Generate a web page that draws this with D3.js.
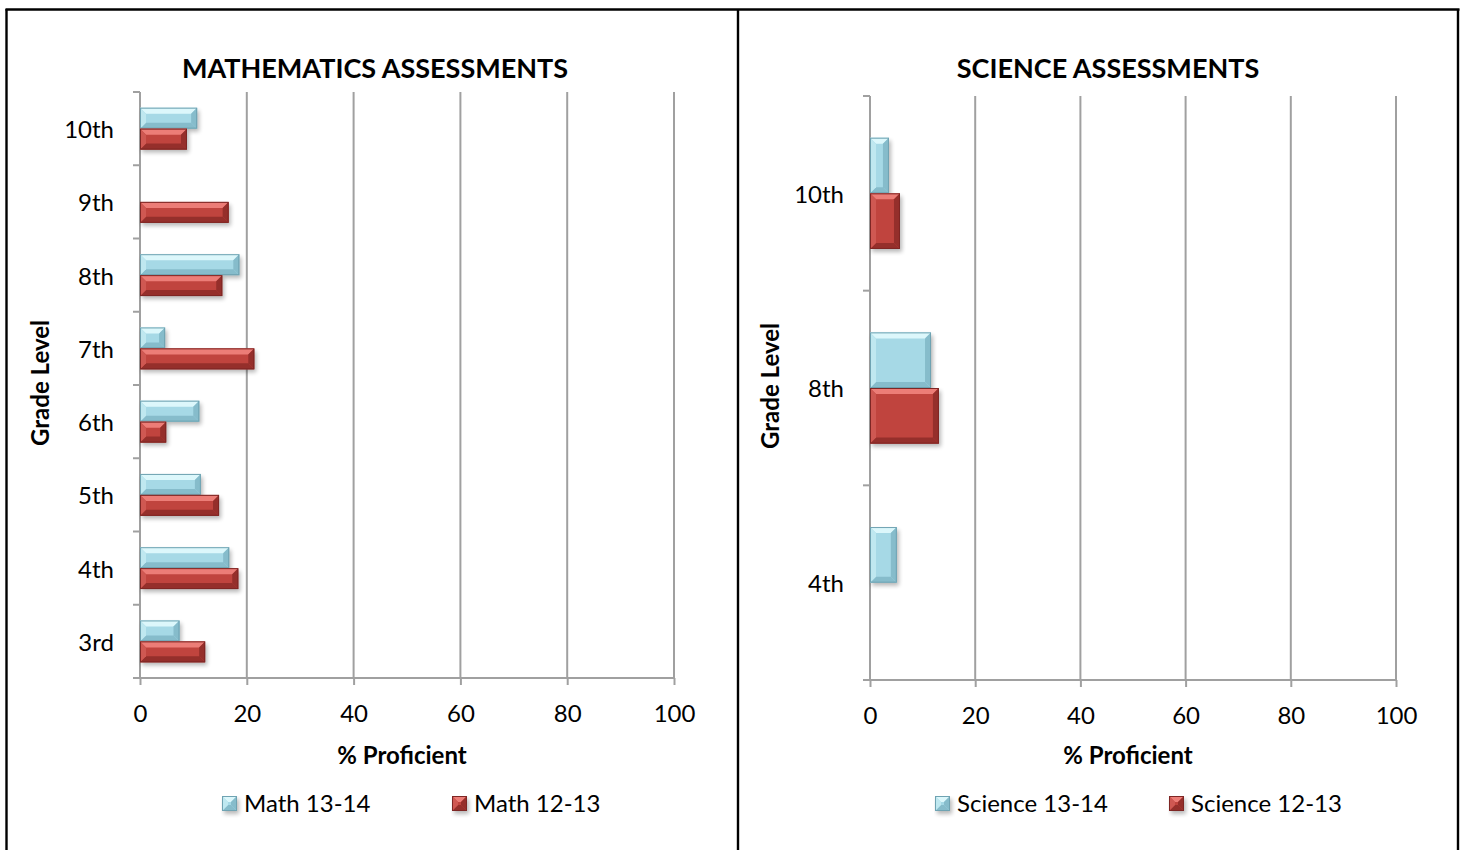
<!DOCTYPE html>
<html>
<head>
<meta charset="utf-8">
<script src="https://cdn.jsdelivr.net/npm/d3@7"></script>
<style>
  body { margin: 0; background: #fff; }
  svg text { font-family: Lato, "Open Sans", sans-serif; fill: #000; }
</style>
</head>
<body>
<svg id="chart" width="1464" height="850"></svg>
<script>
// datos
const mathGrades = ['3rd', '4th', '5th', '6th', '7th', '8th', '9th', '10th'];
const math1314 = [7.4, 16.7, 11.4, 11.1, 4.7, 18.6, null, 10.7];
const math1213 = [12.2, 18.4, 14.8, 4.9, 21.4, 15.4, 16.6, 8.8];

const sciGrades = ['4th', '8th', '10th'];
const sci1314 = [5.1, 11.6, 3.6];
const sci1213 = [null, 13.1, 5.7];

const xTicks = [0, 20, 40, 60, 80, 100];

const BLUE = { face: '#a6d9e6', light: '#dcf7fb', side: '#bfe8f0', dark: '#86bccb', edge: '#6fa3b2' };
const RED = { face: '#c0443e', light: '#ec7d77', side: '#cf5852', dark: '#952f2b', edge: '#7e2624' };
const GRID = '#a0a0a0';

const svg = d3.select('#chart');

const defs = svg.append('defs');
defs.append('filter').attr('id', 'sombra')
  .attr('x', '-20%').attr('y', '-20%').attr('width', '150%').attr('height', '160%')
  .append('feGaussianBlur').attr('stdDeviation', 2.2);

// bordes de la tabla
const bordes = svg.append('g').attr('stroke', '#000').attr('stroke-width', 2.4);
bordes.append('line').attr('x1', 5.5).attr('x2', 1459.5).attr('y1', 9.5).attr('y2', 9.5);
bordes.append('line').attr('x1', 6.5).attr('x2', 6.5).attr('y1', 9).attr('y2', 850);
bordes.append('line').attr('x1', 738).attr('x2', 738).attr('y1', 9).attr('y2', 850);
bordes.append('line').attr('x1', 1458).attr('x2', 1458).attr('y1', 9).attr('y2', 850);

function barraBisel(g, x0, y0, w, h, c) {
  if (w <= 0) return;
  const b = Math.min(6, w / 2, h / 2);
  g.append('rect').attr('x', x0 + 2).attr('y', y0 + 3).attr('width', w).attr('height', h)
    .attr('fill', '#000').attr('opacity', 0.28).attr('filter', 'url(#sombra)');
  g.append('rect').attr('x', x0).attr('y', y0).attr('width', w).attr('height', h).attr('fill', c.face);
  const poly = (pts, fill) => g.append('polygon').attr('points', pts.map((p) => p.join(',')).join(' ')).attr('fill', fill);
  poly([[x0, y0], [x0 + w, y0], [x0 + w - b, y0 + b], [x0 + b, y0 + b]], c.light);
  poly([[x0, y0 + h], [x0 + w, y0 + h], [x0 + w - b, y0 + h - b], [x0 + b, y0 + h - b]], c.dark);
  poly([[x0, y0], [x0 + b, y0 + b], [x0 + b, y0 + h - b], [x0, y0 + h]], c.side);
  poly([[x0 + w, y0], [x0 + w - b, y0 + b], [x0 + w - b, y0 + h - b], [x0 + w, y0 + h]], c.dark);
  g.append('rect').attr('x', x0 + 0.5).attr('y', y0 + 0.5).attr('width', w - 1).attr('height', h - 1)
    .attr('fill', 'none').attr('stroke', c.edge).attr('stroke-width', 1);
}

function panel(cfg) {
  const g = svg.append('g');
  const x = d3.scaleLinear().domain([0, 100]).range([cfg.left, cfg.right]);
  const y = d3.scaleBand().domain(cfg.grades.slice().reverse()).range([cfg.top, cfg.bottom]);
  const bw = y.bandwidth() / 3.5;
  const off = y.bandwidth() * 0.75 / 3.5;

  // lineas de grilla
  g.append('g').selectAll('line').data(xTicks.slice(1)).join('line')
    .attr('x1', (d) => x(d)).attr('x2', (d) => x(d))
    .attr('y1', cfg.top).attr('y2', cfg.bottom)
    .attr('stroke', GRID).attr('stroke-width', 2);

  // eje x
  const ax = g.append('g').attr('transform', `translate(0,${cfg.bottom})`)
    .call(d3.axisBottom(x).tickValues(xTicks).tickSize(7).tickPadding(20));
  ax.select('.domain').remove();
  ax.selectAll('line').attr('stroke', GRID).attr('stroke-width', 2);
  ax.selectAll('text').attr('font-size', 24).style('font-family', 'Lato, sans-serif');
  g.append('line').attr('x1', cfg.left - 7).attr('x2', cfg.right)
    .attr('y1', cfg.bottom).attr('y2', cfg.bottom).attr('stroke', GRID).attr('stroke-width', 2);

  // eje y
  g.append('line').attr('x1', cfg.left).attr('x2', cfg.left)
    .attr('y1', cfg.top).attr('y2', cfg.bottom).attr('stroke', GRID).attr('stroke-width', 2);
  const bordesY = y.domain().map((d) => y(d)).concat([cfg.bottom]);
  g.append('g').selectAll('line').data(bordesY).join('line')
    .attr('x1', cfg.left - 7).attr('x2', cfg.left)
    .attr('y1', (d) => d).attr('y2', (d) => d)
    .attr('stroke', GRID).attr('stroke-width', 2);
  g.append('g').selectAll('text').data(cfg.grades).join('text')
    .attr('x', cfg.left - 26).attr('y', (d) => y(d) + y.bandwidth() / 2 + 1)
    .attr('dy', '0.35em').attr('text-anchor', 'end').attr('font-size', 24)
    .text((d) => d);

  // barras
  const barras = g.append('g');
  cfg.grades.forEach((grado, i) => {
    const v1 = cfg.serieA[i];
    const v2 = cfg.serieB[i];
    const y0 = y(grado) + off;
    if (v1 != null) barraBisel(barras, x(0), y0, x(v1) - x(0), bw, BLUE);
    if (v2 != null) barraBisel(barras, x(0), y0 + bw, x(v2) - x(0), bw, RED);
  });

  // titulos
  g.append('text').attr('x', cfg.titleX).attr('y', 78).attr('text-anchor', 'middle')
    .attr('font-size', 27).attr('font-weight', 'bold').text(cfg.title);
  g.append('text').attr('x', (cfg.left + cfg.right) / 2 - 5).attr('y', 764).attr('text-anchor', 'middle')
    .attr('font-size', 24).attr('font-weight', 'bold').text('% Proficient');
  g.append('text')
    .attr('transform', `translate(${cfg.left - 91},${(cfg.top + cfg.bottom) / 2 - 2}) rotate(-90)`)
    .attr('text-anchor', 'middle').attr('font-size', 24).attr('font-weight', 'bold').text('Grade Level');

  // leyenda
  cfg.legend.forEach((item, k) => {
    const lg = g.append('g').attr('transform', `translate(${item.x},796)`);
    const c = k === 0 ? BLUE : RED;
    barraBisel(lg, 0, 0, 15, 15, c);
    lg.append('text').attr('x', 22).attr('y', 8).attr('dy', '0.35em').attr('font-size', 24).text(item.label);
  });
}

panel({
  title: 'MATHEMATICS ASSESSMENTS', titleX: 375,
  left: 140, right: 674, top: 92, bottom: 678,
  grades: mathGrades, serieA: math1314, serieB: math1213,
  legend: [{ x: 222, label: 'Math 13-14' }, { x: 452, label: 'Math 12-13' }]
});

panel({
  title: 'SCIENCE ASSESSMENTS', titleX: 1108,
  left: 870, right: 1396, top: 96, bottom: 680,
  grades: sciGrades, serieA: sci1314, serieB: sci1213,
  legend: [{ x: 935, label: 'Science 13-14' }, { x: 1169, label: 'Science 12-13' }]
});
</script>
</body>
</html>
